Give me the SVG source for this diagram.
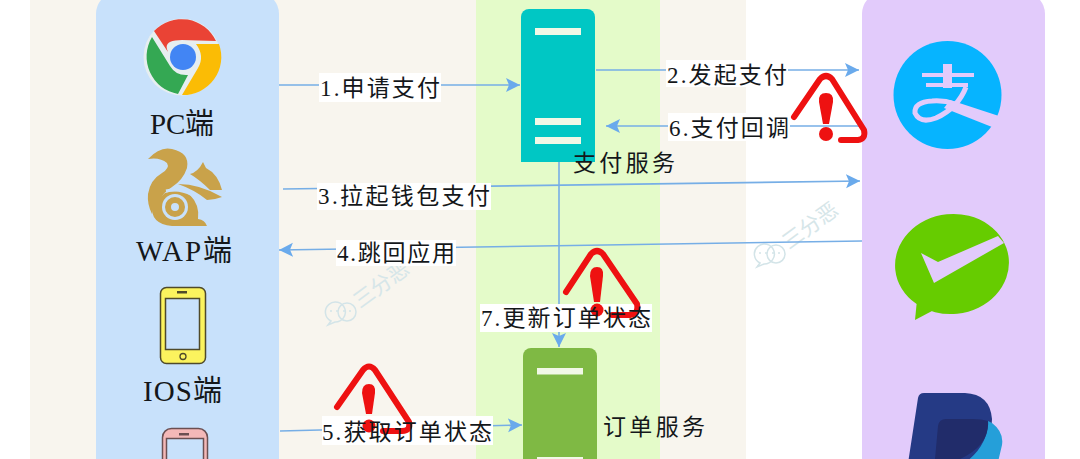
<svg xmlns="http://www.w3.org/2000/svg" width="1080" height="459" viewBox="0 0 1080 459">
<style>
text{font-family:"Liberation Serif","Noto Sans CJK SC",serif;fill:#14171a}
.lb{font-size:23px}
.nm{font-size:29px}
.c{stroke:#76aee6;stroke-width:1.6;fill:none;marker-end:url(#a)}
.w{fill:#fff}
.warn path{fill:none;stroke:#ee1111;stroke-width:6;stroke-linecap:round;stroke-linejoin:round}
.warn .d{fill:#ee1111;stroke:none}
.wm{fill:#d6e6e9;font-size:21px;font-family:"Noto Sans CJK SC",sans-serif}
.wmi{fill:none;stroke:#d3e4e8;stroke-width:1.500}
.bar{fill:#f1f8e6}
.gold{fill:#c9a24a}
</style>
<defs>
<marker id="a" markerUnits="userSpaceOnUse" markerWidth="16" markerHeight="16" refX="14" refY="7" orient="auto"><path d="M0 0L14 7L0 14L3 7Z" fill="#6aaaec"/></marker>
<g id="wmk"><path class="wmi" d="M-9 8l-3 4l7 -3a10 10 0 1 0 -4 -1z"/><circle class="wmi" cx="7" cy="-1" r="9"/><circle cx="-9" cy="-2" r="1" fill="#d3e4e8"/><circle cx="-3" cy="-2" r="1" fill="#d3e4e8"/><circle cx="4" cy="-2" r="1" fill="#d3e4e8"/><circle cx="10" cy="-2" r="1" fill="#d3e4e8"/></g>
</defs>
<rect width="1080" height="459" fill="#fff"/>
<rect x="30" y="-20" width="716" height="500" fill="#f8f5ee"/>
<rect x="96" y="-8" width="183" height="500" rx="22" fill="#c8e1fb"/>
<rect x="476" y="-10" width="184" height="480" fill="#e4fbc9"/>
<rect x="862" y="-8" width="183" height="500" rx="22" fill="#e2cbfb"/>

<use href="#wmk" x="340" y="313"/>
<text class="wm" transform="translate(360 309) rotate(-36)">三分恶</text>
<use href="#wmk" x="769" y="255"/>
<text class="wm" transform="translate(789 250) rotate(-36)">三分恶</text>

<g id="connectors">
<path class="c" d="M279 85H520"/>
<path class="c" d="M596 70H859"/>
<path class="c" d="M862 126H606"/>
<path class="c" d="M283 189L860 181"/>
<path class="c" d="M862 241L279 250"/>
<path class="c" d="M280 431L522 425"/>
<path class="c" d="M559 162V347"/>
</g>

<g id="pc">
<circle cx="182" cy="57" r="38.500" fill="#e6eef0"/>
<path d="M154 31A38 38 0 0 1 216 41L182 40Q162 40 168 52Z" fill="#ea4335"/>
<path d="M152 37L170 66Q176 76 188 75L178 94A38 38 0 0 1 152 37Z" fill="#34a853"/>
<path d="M196 44H219A38 38 0 0 1 182 95L198 68Q205 56 196 44Z" fill="#fbbc05"/>
<circle cx="183" cy="57" r="13" fill="#4285f4"/>
<text class="nm" x="150" y="134" textLength="64">PC端</text>
</g>

<g id="wap">
<path class="gold" d="M148 159Q160 146 172 149Q190 153 187 168Q183 180 172 187Q163 193 161 198Q152 207 152 214Q147 204 148 194Q150 180 162 173Q170 168 167 163Q160 157 148 159Z"/>
<path class="gold" d="M152 205Q150 224 172 226H207Q205 220 198 219Q200 205 190 195Q180 188 165 193Z"/>
<circle cx="175" cy="207" r="13" fill="#c8e1fb"/>
<circle cx="175" cy="207" r="7" fill="none" stroke="#c9a24a" stroke-width="6"/>
<path d="M166 191Q190 186 207 209" fill="none" stroke="#c8e1fb" stroke-width="3"/>
<path class="gold" d="M178 184Q200 184 222 197Q214 200 207 200Q195 190 178 184Z"/>
<path class="gold" d="M190 174Q198 172 203 162L206 168Q218 174 222 190L210 190Q200 180 190 174Z"/>
<text class="nm" x="136" y="261" textLength="96">WAP端</text>
</g>

<g id="ios">
<rect x="160.500" y="287.500" width="45" height="76" rx="6" fill="#fbf35e" stroke="#4f4a2a" stroke-width="1.500"/>
<rect x="165.500" y="298.500" width="34" height="51" fill="#c8e1fb" stroke="#4f4a2a" stroke-width="1.500"/>
<rect x="177" y="291" width="10" height="2.500" fill="#4f4a2a"/>
<circle cx="183" cy="356.500" r="3" fill="none" stroke="#4f4a2a" stroke-width="1.300"/>
<text class="nm" x="143" y="401" textLength="79">IOS端</text>
</g>

<g id="android">
<rect x="162.500" y="428.500" width="45" height="60" rx="9" fill="#f4b8b8" stroke="#6b4f52" stroke-width="1.500"/>
<rect x="166.500" y="438.500" width="37" height="40" fill="#c8e1fb" stroke="#6b4f52" stroke-width="1.500"/>
<rect x="179" y="433" width="10" height="2.500" fill="#6b4f52"/>
</g>

<g id="pay-service">
<path d="M521 162V17a8 8 0 0 1 8-8H587a8 8 0 0 1 8 8V162Z" fill="#00c7c4"/>
<rect class="bar" x="535" y="28" width="46" height="7"/>
<rect class="bar" x="535" y="118" width="46" height="7"/>
<rect class="bar" x="535" y="137" width="46" height="7"/>
<text class="lb" x="573" y="171" textLength="102">支付服务</text>
</g>

<g id="order-service">
<path d="M523 470V356a8 8 0 0 1 8-8H589a8 8 0 0 1 8 8V470Z" fill="#7fb944"/>
<rect class="bar" x="537" y="368" width="46" height="6.500"/>
<rect class="bar" x="537" y="457" width="46" height="6"/>
<text class="lb" x="603" y="435" textLength="102">订单服务</text>
</g>

<g id="alipay">
<circle cx="947.500" cy="95" r="54" fill="#06b4ff"/>
<g fill="#e2cbfb">
<rect x="943" y="64" width="9" height="24"/>
<rect x="922" y="73" width="52" height="4"/>
<rect x="926" y="83" width="42" height="4"/>
<path d="M950 100L1002 117L992 127L944 108Z"/>
</g>
<path d="M966 87Q958 108 936 118Q920 124 915 113Q914 102 932 101Q944 100 955 104" fill="none" stroke="#e2cbfb" stroke-width="5"/>
</g>

<g id="wechatpay">
<path d="M917 300L915 320L932 311Z" fill="#66cc00"/>
<ellipse cx="952" cy="264" rx="57" ry="50" fill="#66cc00" transform="rotate(-6 952 264)"/>
<path d="M921 253L938 262L998 236L1004 243L934 283Z" fill="#e2cbfb"/>
</g>

<g id="paypal">
<path d="M907 470L918 398Q919 393 924 393H965Q990 394 992 419Q992 438 982 459L978 470Z" fill="#253a85"/>
<path d="M992 423Q1004 432 1002 445L998 462H966Q988 445 988 421Z" fill="#259fd9"/>
<path d="M934 470L938 426Q939 419 946 419H972Q982 419 988 421Q990 445 960 459L950 470Z" fill="#212c6a"/>
</g>

<g id="label-boxes">
<rect class="w" x="319" y="73" width="122" height="29"/>
<rect class="w" x="666" y="60" width="122" height="27"/>
<rect class="w" x="668" y="113" width="122" height="28"/>
<rect class="w" x="317" y="183" width="174" height="27"/>
<rect class="w" x="336" y="240" width="120" height="26"/>
<rect class="w" x="322" y="416" width="171" height="29"/>
<rect class="w" x="480" y="304" width="172" height="28"/>
</g>

<g id="warn1" class="warn"><path d="M794 117L820 79Q826 73 832 79L864 130Q866 139 858 140H841"/><path class="d" d="M826 93Q834 93 833 102L829 124H823L819 102Q818 93 826 93Z"/><circle class="d" cx="826" cy="134" r="7"/></g>
<g id="warn2" class="warn"><path d="M566 292L591 254Q597 248 603 254L637 304Q639 314 630 315H612"/><path class="d" d="M597 267Q604 267 603 276L600 302H594L590 276Q590 267 597 267Z"/><circle class="d" cx="597" cy="310" r="6.500"/></g>
<g id="warn3" class="warn"><path d="M337 407L363 370Q369 363 375 370L409 422Q411 431 402 431H383"/><path class="d" d="M369 384Q376 384 375 393L372 414H366L362 393Q362 384 369 384Z"/><circle class="d" cx="369" cy="426" r="6.500"/></g>

<g id="labels">
<text class="lb" x="320" y="96" textLength="120">1.申请支付</text>
<text class="lb" x="667" y="83" textLength="120">2.发起支付</text>
<text class="lb" x="669" y="136" textLength="120">6.支付回调</text>
<text class="lb" x="318" y="204" textLength="172">3.拉起钱包支付</text>
<text class="lb" x="337" y="261" textLength="118">4.跳回应用</text>
<text class="lb" x="322" y="440" textLength="170">5.获取订单状态</text>
<text class="lb" x="481" y="326" textLength="170">7.更新订单状态</text>
</g>
</svg>
